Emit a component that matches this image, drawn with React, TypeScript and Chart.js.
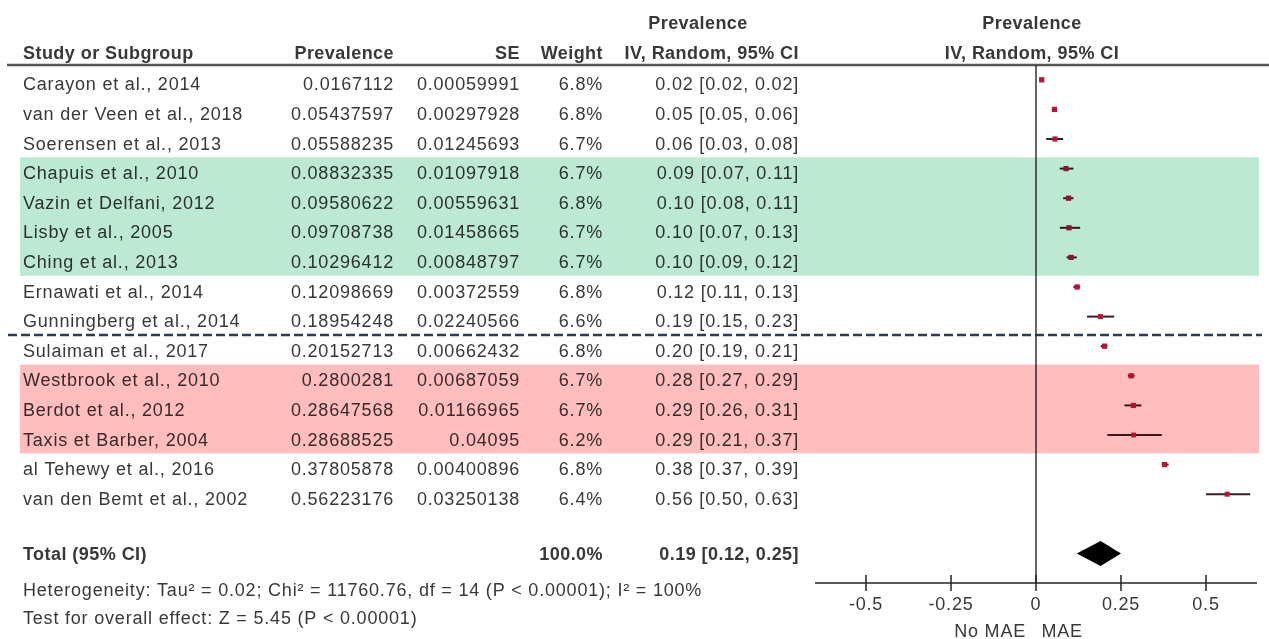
import React, { useEffect, useRef } from 'react';
import { Chart, registerables } from 'chart.js';

Chart.register(...registerables);

// ---------- data ----------
const studies = [
  'Carayon et al., 2014',
  'van der Veen et al., 2018',
  'Soerensen et al., 2013',
  'Chapuis et al., 2010',
  'Vazin et Delfani, 2012',
  'Lisby et al., 2005',
  'Ching et al., 2013',
  'Ernawati et al., 2014',
  'Gunningberg et al., 2014',
  'Sulaiman et al., 2017',
  'Westbrook et al., 2010',
  'Berdot et al., 2012',
  'Taxis et Barber, 2004',
  'al Tehewy et al., 2016',
  'van den Bemt et al., 2002',
];
const prevalence = [
  0.0167112, 0.05437597, 0.05588235, 0.08832335, 0.09580622, 0.09708738, 0.10296412,
  0.12098669, 0.18954248, 0.20152713, 0.2800281, 0.28647568, 0.28688525, 0.37805878, 0.56223176,
];
const seValues = [
  0.00059991, 0.00297928, 0.01245693, 0.01097918, 0.00559631, 0.01458665, 0.00848797,
  0.00372559, 0.02240566, 0.00662432, 0.00687059, 0.01166965, 0.04095, 0.00400896, 0.03250138,
];
const weights = [6.8, 6.8, 6.7, 6.7, 6.8, 6.7, 6.7, 6.8, 6.6, 6.8, 6.7, 6.7, 6.2, 6.8, 6.4];
const ciLow = [0.02, 0.05, 0.03, 0.07, 0.08, 0.07, 0.09, 0.11, 0.15, 0.19, 0.27, 0.26, 0.21, 0.37, 0.5];
const ciHigh = [0.02, 0.06, 0.08, 0.11, 0.11, 0.13, 0.12, 0.13, 0.23, 0.21, 0.29, 0.31, 0.37, 0.39, 0.63];

const totalEstimate = 0.19;
const totalLow = 0.12;
const totalHigh = 0.25;
const totalWeight = 100.0;

const xTicks = [-0.5, -0.25, 0, 0.25, 0.5];
const xTickLabels = ['-0.5', '-0.25', '0', '0.25', '0.5'];

const greenBandRows = [3, 6];
const pinkBandRows = [10, 12];
const dashedAfterRow = 8;
const totalRow = 16;
const axisRow = 17;

const heterogeneityText =
  'Heterogeneity: Tau\u00b2 = 0.02; Chi\u00b2 = 11760.76, df = 14 (P < 0.00001); I\u00b2 = 100%';
const overallEffectText = 'Test for overall effect: Z = 5.45 (P < 0.00001)';

// ---------- styles ----------
const FONT_FAMILY = '"Liberation Sans", Arial, sans-serif';
const FONT_SIZE = 18;
const LETTER_SPACING = '0.8px';
const LETTER_SPACING_BOLD = '0.45px';
const TEXT = '#383838';
const MARKER = '#b5173a';
const WHISKER = '#3b1d22';

const COL_STUDY = 23;
const COL_PREV = 394;
const COL_SE = 520;
const COL_WEIGHT = 603;
const COL_CI = 799;
const COL_CI_CENTER = 698;
const COL_PLOT_CENTER = 1032;

const fmtCI = (e: number, lo: number, hi: number) =>
  `${e.toFixed(2)} [${lo.toFixed(2)}, ${hi.toFixed(2)}]`;

const forestPlugin = {
  id: 'forest',
  beforeDraw(chart: any) {
    const { ctx, width, height } = chart;
    const ys = chart.scales.y;
    ctx.save();
    ctx.fillStyle = '#ffffff';
    ctx.fillRect(0, 0, width, height);

    const text = (s: string, x: number, y: number, align: CanvasTextAlign, bold = false) => {
      ctx.font = `${bold ? 'bold ' : ''}${FONT_SIZE}px ${FONT_FAMILY}`;
      (ctx as any).letterSpacing = bold ? LETTER_SPACING_BOLD : LETTER_SPACING;
      ctx.textAlign = align;
      ctx.textBaseline = 'alphabetic';
      ctx.fillStyle = TEXT;
      ctx.fillText(s, x, y);
    };

    // headers
    text('Prevalence', COL_CI_CENTER, 29, 'center', true);
    text('Prevalence', COL_PLOT_CENTER, 29, 'center', true);
    text('Study or Subgroup', COL_STUDY, 59, 'left', true);
    text('Prevalence', COL_PREV, 59, 'right', true);
    text('SE', COL_SE, 59, 'right', true);
    text('Weight', COL_WEIGHT, 59, 'right', true);
    text('IV, Random, 95% CI', COL_CI, 59, 'right', true);
    text('IV, Random, 95% CI', COL_PLOT_CENTER, 59, 'center', true);

    // header rule
    ctx.strokeStyle = '#555555';
    ctx.lineWidth = 2.5;
    ctx.beginPath();
    ctx.moveTo(7, 65);
    ctx.lineTo(width, 65);
    ctx.stroke();

    // rows
    studies.forEach((s, i) => {
      const y = ys.getPixelForValue(i) + 10.5;
      text(s, COL_STUDY, y, 'left');
      text(String(prevalence[i]), COL_PREV, y, 'right');
      text(String(seValues[i]), COL_SE, y, 'right');
      text(`${weights[i].toFixed(1)}%`, COL_WEIGHT, y, 'right');
      text(fmtCI(prevalence[i], ciLow[i], ciHigh[i]), COL_CI, y, 'right');
    });

    const ty = ys.getPixelForValue(totalRow) + 7;
    text('Total (95% CI)', COL_STUDY, ty, 'left', true);
    text(`${totalWeight.toFixed(1)}%`, COL_WEIGHT, ty, 'right', true);
    text(fmtCI(totalEstimate, totalLow, totalHigh), COL_CI, ty, 'right', true);
    text(heterogeneityText, COL_STUDY, ty + 36, 'left');
    text(overallEffectText, COL_STUDY, ty + 64, 'left');

    // dashed separator
    const dy = ys.getPixelForValue(dashedAfterRow + 0.62);
    ctx.strokeStyle = '#2f3b4c';
    ctx.lineWidth = 2.5;
    ctx.setLineDash([9, 4]);
    ctx.beginPath();
    ctx.moveTo(8, dy);
    ctx.lineTo(1262, dy);
    ctx.stroke();
    ctx.setLineDash([]);
    ctx.restore();
  },
  beforeDatasetsDraw(chart: any) {
    const { ctx } = chart;
    const xs = chart.scales.x;
    const ys = chart.scales.y;
    ctx.save();
    // zero line
    const x0 = xs.getPixelForValue(0);
    ctx.strokeStyle = '#333333';
    ctx.lineWidth = 1.5;
    ctx.beginPath();
    ctx.moveTo(x0, 65);
    ctx.lineTo(x0, ys.getPixelForValue(axisRow));
    ctx.stroke();

    // axis
    const ay = ys.getPixelForValue(axisRow);
    ctx.strokeStyle = '#222222';
    ctx.lineWidth = 1.5;
    ctx.beginPath();
    ctx.moveTo(chart.chartArea.left, ay);
    ctx.lineTo(chart.chartArea.right, ay);
    ctx.stroke();
    ctx.font = `${FONT_SIZE}px ${FONT_FAMILY}`;
    (ctx as any).letterSpacing = LETTER_SPACING;
    ctx.fillStyle = TEXT;
    ctx.textAlign = 'center';
    ctx.textBaseline = 'alphabetic';
    xTicks.forEach((t, i) => {
      const px = xs.getPixelForValue(t);
      ctx.beginPath();
      ctx.moveTo(px, ay - 8);
      ctx.lineTo(px, ay + 8);
      ctx.stroke();
      ctx.fillText(xTickLabels[i], px, ay + 27);
    });
    ctx.fillText('No MAE', xs.getPixelForValue(-0.135), ay + 54);
    ctx.fillText('MAE', xs.getPixelForValue(0.077), ay + 54);

    // whiskers
    ctx.strokeStyle = WHISKER;
    ctx.lineWidth = 2;
    studies.forEach((_, i) => {
      const y = ys.getPixelForValue(i);
      ctx.beginPath();
      ctx.moveTo(xs.getPixelForValue(ciLow[i]), y);
      ctx.lineTo(xs.getPixelForValue(ciHigh[i]), y);
      ctx.stroke();
    });
    ctx.restore();
  },
  afterDatasetsDraw(chart: any) {
    const { ctx } = chart;
    const xs = chart.scales.x;
    const ys = chart.scales.y;
    ctx.save();
    const cy = ys.getPixelForValue(totalRow);
    ctx.fillStyle = '#000000';
    ctx.beginPath();
    ctx.moveTo(xs.getPixelForValue(totalLow), cy);
    ctx.lineTo(xs.getPixelForValue(totalEstimate), cy - 12.5);
    ctx.lineTo(xs.getPixelForValue(totalHigh), cy);
    ctx.lineTo(xs.getPixelForValue(totalEstimate), cy + 12.5);
    ctx.closePath();
    ctx.fill();
    ctx.restore();
  },
  afterDraw(chart: any) {
    const { ctx } = chart;
    const ys = chart.scales.y;
    ctx.save();
    ctx.globalCompositeOperation = 'multiply';
    const band = (rows: number[], color: string) => {
      const top = ys.getPixelForValue(rows[0] - 0.38);
      const bottom = ys.getPixelForValue(rows[1] + 0.62);
      ctx.fillStyle = color;
      ctx.fillRect(20, top, 1259 - 20, bottom - top);
    };
    band(greenBandRows, '#bce8d4');
    band(pinkBandRows, '#ffbdbe');
    ctx.restore();
  },
};

export default function App() {
  const ref = useRef<HTMLCanvasElement>(null);
  useEffect(() => {
    const canvas = ref.current!;
    const chart = new Chart(canvas, {
      type: 'scatter',
      data: {
        datasets: [
          {
            data: prevalence.map((p, i) => ({ x: p, y: i })),
            pointStyle: 'rect',
            pointRadius: weights.map((w) => w * 0.55),
            pointBorderWidth: 0,
            backgroundColor: MARKER,
            borderColor: MARKER,
          },
        ],
      },
      options: {
        animation: false,
        responsive: true,
        maintainAspectRatio: false,
        events: [],
        layout: { padding: { left: 815, right: 12, top: 65, bottom: 56 } },
        scales: {
          x: { type: 'linear', min: -0.65, max: 0.65, display: false },
          y: { type: 'linear', min: -0.5, max: axisRow, reverse: true, display: false },
        },
        plugins: { legend: { display: false }, tooltip: { enabled: false } },
      },
      plugins: [forestPlugin],
    } as any);
    return () => chart.destroy();
  }, []);
  return (
    <div style={{ position: 'absolute', left: 0, top: 0, width: 1269, height: 639, background: '#fff' }}>
      <canvas ref={ref} />
    </div>
  );
}
